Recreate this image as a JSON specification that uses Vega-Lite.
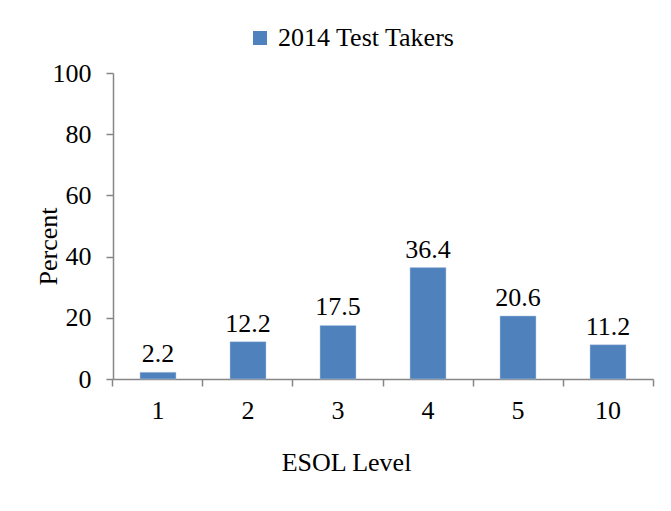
{
  "$schema": "https://vega.github.io/schema/vega-lite/v6.json",
  "width": 540,
  "height": 306,
  "autosize": {"type": "none"},
  "padding": {"left": 113, "top": 73, "right": 18, "bottom": 132},
  "background": "white",
  "data": {
    "values": [
      {"level": "1", "percent": 2.2, "series": "2014 Test Takers"},
      {"level": "2", "percent": 12.2, "series": "2014 Test Takers"},
      {"level": "3", "percent": 17.5, "series": "2014 Test Takers"},
      {"level": "4", "percent": 36.4, "series": "2014 Test Takers"},
      {"level": "5", "percent": 20.6, "series": "2014 Test Takers"},
      {"level": "10", "percent": 11.2, "series": "2014 Test Takers"}
    ]
  },
  "encoding": {
    "y": {
      "field": "percent",
      "type": "quantitative",
      "scale": {"domain": [0, 100]},
      "axis": {
        "title": "Percent",
        "values": [0, 20, 40, 60, 80, 100],
        "grid": false,
        "domainColor": "#868686",
        "domainWidth": 1.5,
        "tickColor": "#868686",
        "tickWidth": 1.5,
        "tickSize": 7,
        "labelPadding": 15,
        "labelFontSize": 26,
        "labelColor": "black",
        "titleFontSize": 26,
        "titleFontWeight": "normal",
        "titleColor": "black",
        "titleX": -65,
        "titleY": 173,
        "titleAngle": -90,
        "titleAlign": "center",
        "titleBaseline": "middle"
      }
    }
  },
  "layer": [
    {
      "mark": {"type": "bar", "stroke": "#B9CDE5", "strokeWidth": 0.5},
      "encoding": {
        "x": {
          "field": "level",
          "type": "ordinal",
          "sort": null,
          "scale": {"paddingInner": 0.6, "paddingOuter": 0.3},
          "axis": {
            "title": "ESOL Level",
            "labelAngle": 0,
            "bandPosition": -0.75,
            "domainColor": "#868686",
            "domainWidth": 1.5,
            "tickColor": "#868686",
            "tickWidth": 1.5,
            "tickSize": 7,
            "labelPadding": 11,
            "labelFontSize": 26,
            "labelColor": "black",
            "titleFontSize": 26,
            "titleFontWeight": "normal",
            "titleColor": "black",
            "titlePadding": 26,
            "titleX": 233
          }
        },
        "color": {
          "field": "series",
          "type": "nominal",
          "scale": {"range": ["#4F81BD"]},
          "legend": {
            "title": null,
            "orient": "none",
            "legendX": 134,
            "legendY": -48,
            "symbolType": "square",
            "symbolSize": 196,
            "symbolStrokeWidth": 0,
            "labelFontSize": 26,
            "labelColor": "black",
            "labelOffset": 5,
            "labelLimit": 0
          }
        }
      }
    },
    {
      "mark": {
        "type": "text",
        "baseline": "alphabetic",
        "dy": -10,
        "fontSize": 26,
        "color": "black"
      },
      "encoding": {
        "x": {
          "field": "level",
          "type": "ordinal",
          "sort": null,
          "axis": {
            "orient": "bottom",
            "values": ["10"],
            "bandPosition": 1.75,
            "labels": false,
            "domain": false,
            "title": null,
            "tickColor": "#868686",
            "tickWidth": 1.5,
            "tickSize": 7
          }
        },
        "text": {"field": "percent", "type": "quantitative", "format": ".1f"}
      }
    }
  ],
  "resolve": {"axis": {"x": "independent"}},
  "config": {
    "font": "'Liberation Serif', 'DejaVu Serif', serif",
    "view": {"stroke": null}
  }
}
